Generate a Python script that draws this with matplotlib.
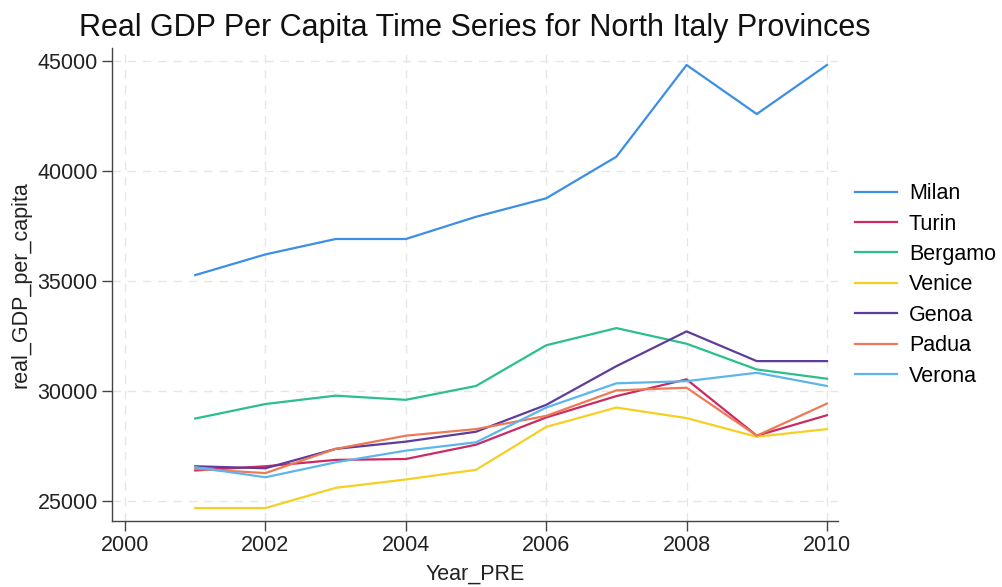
import matplotlib
matplotlib.use("Agg")
import matplotlib.pyplot as plt

plt.rcParams['font.family'] = ['Liberation Sans', 'DejaVu Sans']

# Данные: реальный ВВП на душу населения по провинциям
years = [2001, 2002, 2003, 2004, 2005, 2006, 2007, 2008, 2009, 2010]
milan = [35270, 36210, 36910, 36910, 37920, 38760, 40650, 44820, 42590, 44820]
turin = [26390, 26580, 26870, 26910, 27560, 28800, 29770, 30530, 27970, 28900]
bergamo = [28750, 29410, 29790, 29600, 30230, 32080, 32860, 32150, 30980, 30560]
venice = [24680, 24680, 25600, 25980, 26420, 28370, 29250, 28770, 27920, 28270]
genoa = [26580, 26490, 27370, 27700, 28150, 29370, 31130, 32710, 31360, 31360]
padua = [26460, 26270, 27370, 27970, 28270, 28870, 30030, 30150, 27970, 29430]
verona = [26540, 26080, 26760, 27290, 27670, 29250, 30350, 30450, 30830, 30230]

names = ['Milan', 'Turin', 'Bergamo', 'Venice', 'Genoa', 'Padua', 'Verona']
series = [milan, turin, bergamo, venice, genoa, padua, verona]
colors = ['#3b8fe6', '#cc2a62', '#2bbf8c', '#f5cf24', '#5e3c9c', '#ee7a55', '#5cb6ec']

fs = 15.5

fig = plt.figure(figsize=(10.02, 5.87), dpi=100)
ax = fig.add_axes([0.1115, 0.1129, 0.7248, 0.8053])

for name, vals, c in zip(names, series, colors):
    ax.plot(years, vals, color=c, linewidth=1.6, label=name)

ax.set_xlim(1999.81, 2010.157)
ax.set_ylim(24105, 45591)
ax.set_xticks([2000, 2002, 2004, 2006, 2008, 2010])
ax.set_yticks([25000, 30000, 35000, 40000, 45000])

ax.grid(True, linestyle=(0, (6, 5)), color='#e6e6e6', linewidth=1.0)
ax.set_axisbelow(True)
for s in ['top', 'right']:
    ax.spines[s].set_visible(False)
for s in ['left', 'bottom']:
    ax.spines[s].set_color('#444444')
    ax.spines[s].set_linewidth(1.0)
ax.tick_params(direction='out', length=7, width=1.0, color='#444444',
               pad=3, labelsize=fs, labelcolor='#222222')

ax.set_title('Real GDP Per Capita Time Series for North Italy Provinces',
             fontsize=22, color='#111111', pad=9)
ax.set_xlabel('Year_PRE', fontsize=fs, color='#222222', labelpad=6)
ax.set_ylabel('real_GDP_per_capita', fontsize=fs, color='#222222', labelpad=4)

ax.legend(loc='center left', bbox_to_anchor=(855 / 1002, 1 - 285 / 587),
          bbox_transform=fig.transFigure, borderpad=0, borderaxespad=0,
          frameon=False, fontsize=fs, handlelength=1.95, labelspacing=0.44,
          handletextpad=0.55)

fig.savefig('out.png', dpi=100)
